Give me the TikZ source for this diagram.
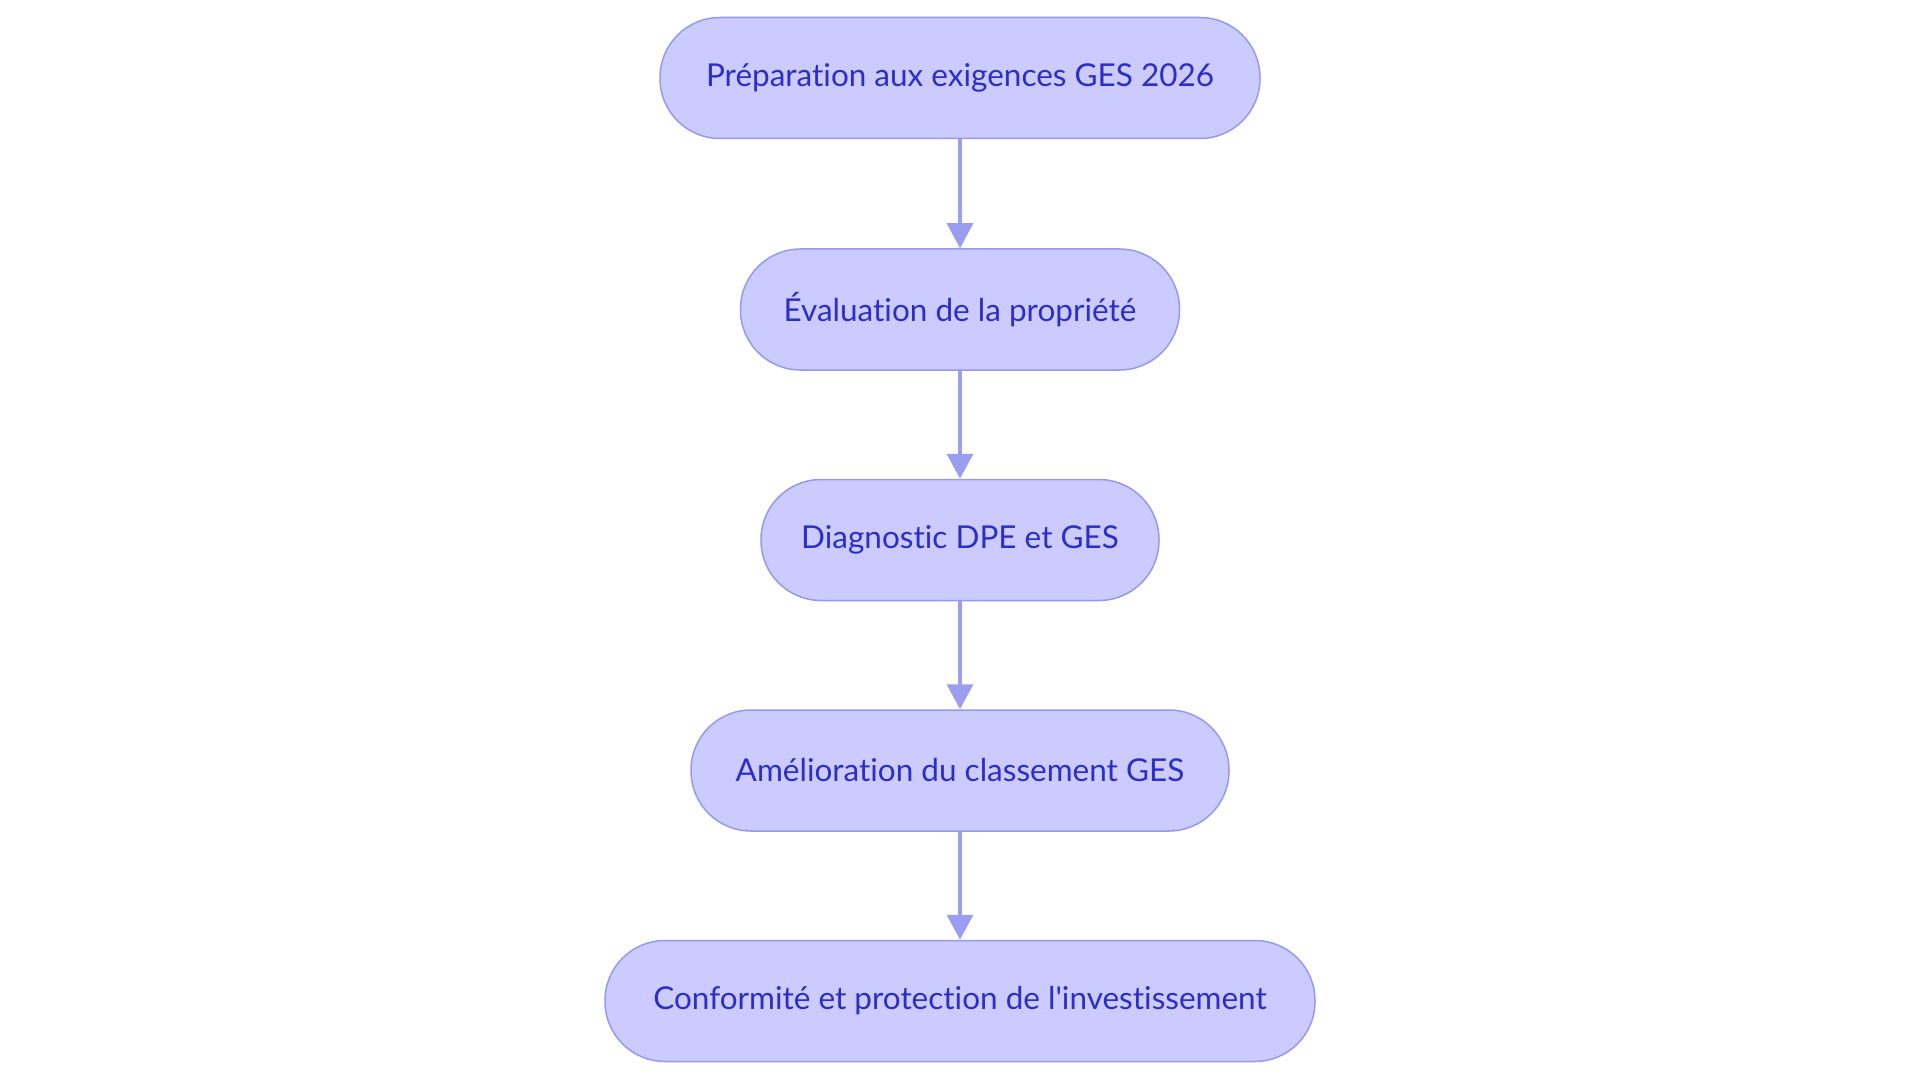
\documentclass[tikz,border=0pt]{standalone}
\usepackage{fontspec}
\newfontfamily\nodefont[Ligatures=NoCommon]{Lato}
\usetikzlibrary{arrows.meta}
\definecolor{nodefill}{RGB}{203,203,255}
\definecolor{nodedraw}{RGB}{150,153,238}
\definecolor{nodetext}{RGB}{45,45,200}
\definecolor{edgecol}{RGB}{155,158,240}
\tikzset{
  stepbox/.style={draw=nodedraw, fill=nodefill, line width=1.5pt, rounded corners=60pt,
    minimum height=121pt, inner sep=0pt, text=nodetext,
    font=\nodefont\fontsize{31.5}{38}\selectfont},
  flow/.style={draw=edgecol, line width=3.5pt, -{Triangle[length=25pt,width=26pt]}}
}
\begin{document}
\begin{tikzpicture}[x=1pt,y=-1pt]
\useasboundingbox (0,0) rectangle (1920,1083);
\node[stepbox, minimum width=600pt] (n1) at (960,78) {Préparation aux exigences GES 2026};
\node[stepbox, minimum width=439pt] (n2) at (960,309.5) {Évaluation de la propriété};
\node[stepbox, minimum width=398pt] (n3) at (960,540) {Diagnostic DPE et GES};
\node[stepbox, minimum width=538pt] (n4) at (960,770.5) {Amélioration du classement GES};
\node[stepbox, minimum width=710pt] (n5) at (960,1001) {Conformité et protection de l'investissement};
\draw[flow] (n1.south) -- (n2.north);
\draw[flow] (n2.south) -- (n3.north);
\draw[flow] (n3.south) -- (n4.north);
\draw[flow] (n4.south) -- (n5.north);
\end{tikzpicture}
\end{document}
